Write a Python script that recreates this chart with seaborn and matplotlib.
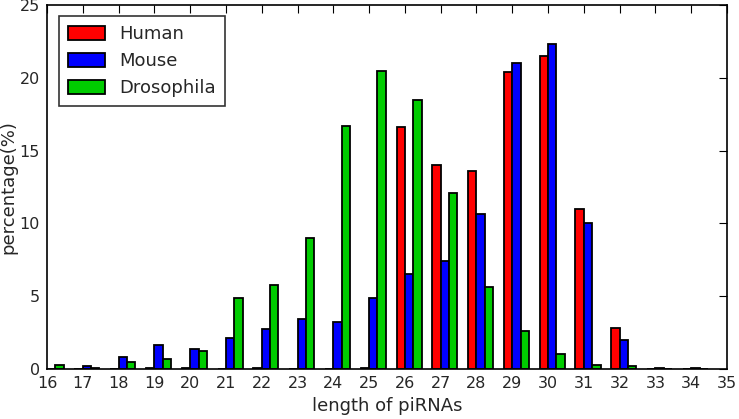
import numpy as np
import pandas as pd
import matplotlib
matplotlib.use("Agg")
import matplotlib.pyplot as plt
import seaborn as sns

lengths = list(range(16, 35))
human = [0, 0, 0, 0.05, 0.05, 0, 0.05, 0, 0, 0.05, 16.6, 14.0, 13.6, 20.4, 21.5, 11.0, 2.8, 0, 0]
mouse = [0, 0.2, 0.8, 1.65, 1.35, 2.1, 2.75, 3.45, 3.25, 4.9, 6.5, 7.4, 10.65, 21.0, 22.3, 10.0, 2.0, 0.1, 0.05]
drosophila = [0.3, 0.1, 0.5, 0.7, 1.25, 4.9, 5.8, 9.0, 16.7, 20.5, 18.5, 12.1, 5.6, 2.6, 1.05, 0.3, 0.2, 0, 0]
species = ["Human", "Mouse", "Drosophila"]
colors = ["#ff0000", "#0000ff", "#00cc00"]

df = pd.DataFrame({
    "length": lengths * 3,
    "pct": human + mouse + drosophila,
    "species": sum([[s] * len(lengths) for s in species], []),
})

sns.set_style("white")
plt.rcParams["font.family"] = ["DejaVu Sans"]
plt.rcParams["text.color"] = "#262626"
plt.rcParams["axes.labelcolor"] = "#262626"
plt.rcParams["xtick.color"] = "black"
plt.rcParams["ytick.color"] = "black"
plt.rcParams["xtick.labelcolor"] = "#262626"
plt.rcParams["ytick.labelcolor"] = "#262626"

fig = plt.figure(figsize=(7.39, 4.19), dpi=100)
ax = fig.add_axes([47 / 739, 1 - 369 / 419, 680 / 739, 364 / 419])

width = 0.7
sns.barplot(data=df, x="length", y="pct", hue="species", hue_order=species,
            palette=dict(zip(species, colors)), native_scale=True, width=width,
            dodge=True, saturation=1, errorbar=None, ax=ax, legend=False)

# shift so that groups start at n - w (red ends at tick)
w = width / 3
for p in ax.patches:
    p.set_x(p.get_x() + w / 2)
    p.set_edgecolor("black")
    p.set_linewidth(1.3)

ax.set_xlim(16, 35)
ax.set_ylim(0, 25)
ax.set_xticks(range(16, 36))
ax.set_xticklabels([str(v) for v in range(16, 36)])
ax.set_yticks(range(0, 26, 5))
ax.tick_params(direction="in", top=True, right=True, length=6, width=0.8, labelsize=11.5, pad=5)
for s in ax.spines.values():
    s.set_color("black")
    s.set_linewidth(1.2)
ax.set_xlabel("length of piRNAs", fontsize=13)
ax.set_ylabel("percentage(%)", fontsize=13, labelpad=2)

from matplotlib.patches import Patch
handles = [Patch(facecolor=c, edgecolor="black", linewidth=1.3, label=s) for s, c in zip(species, colors)]
leg = ax.legend(handles=handles, loc="upper left", fontsize=13, fancybox=False,
                frameon=True, borderpad=0.5, handlelength=2.0, handleheight=0.8,
                labelspacing=0.5, bbox_to_anchor=(0.005, 0.995))
leg.get_frame().set_edgecolor("black")
leg.get_frame().set_linewidth(1.2)

fig.savefig("out.png", dpi=100)
